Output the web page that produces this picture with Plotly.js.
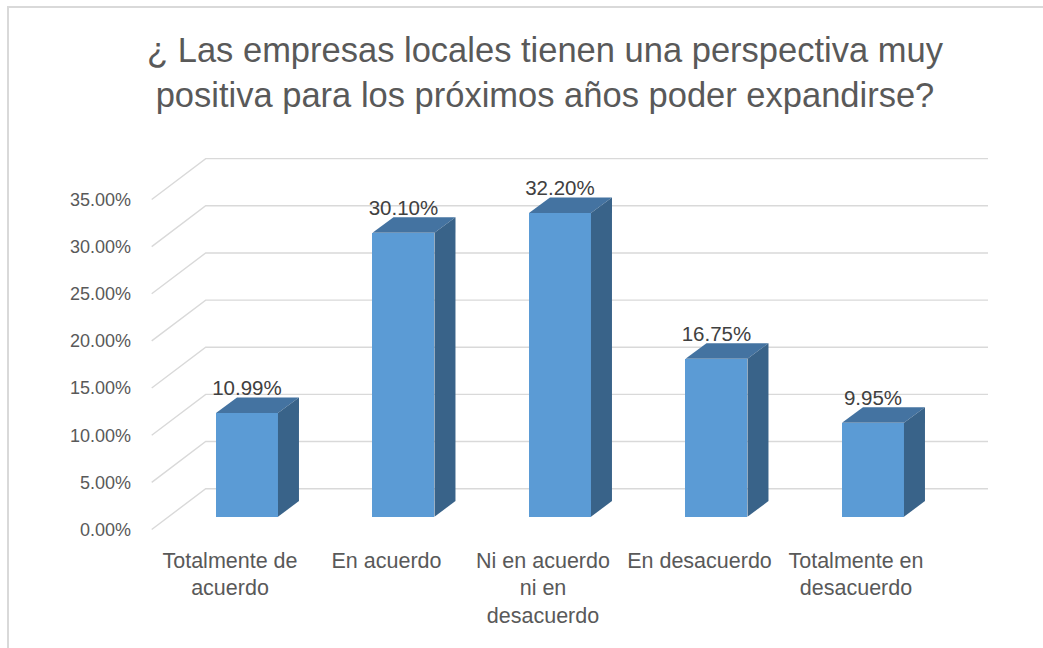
<!DOCTYPE html>
<html>
<head>
<meta charset="utf-8">
<script src="https://cdn.plot.ly/plotly-3.0.1.min.js"></script>
<style>
  html, body { margin: 0; padding: 0; background: #ffffff; }
  #wrap { position: relative; width: 1043px; height: 648px; overflow: hidden; }
  #chart { position: absolute; left: 0; top: 0; width: 1043px; height: 648px; }
  #frame { position: absolute; left: 7px; top: 6px; width: 1100px; height: 700px;
           border-left: 2px solid #D9D9D9; border-top: 2px solid #D9D9D9; pointer-events: none; }
</style>
</head>
<body>
<div id="wrap"><div id="chart"></div><div id="frame"></div></div>
<script>
// ---- data ----
const categories = [
  "Totalmente de<br>acuerdo",
  "En acuerdo",
  "Ni en acuerdo<br>ni en<br>desacuerdo",
  "En desacuerdo",
  "Totalmente en<br>desacuerdo"
];
const values = [0.1099, 0.3010, 0.3220, 0.1675, 0.0995];
const tickValues = [0, 0.05, 0.10, 0.15, 0.20, 0.25, 0.30, 0.35];
const tickLabels = ["0.00%", "5.00%", "10.00%", "15.00%", "20.00%", "25.00%", "30.00%", "35.00%"];
const titleText = "¿ Las empresas locales tienen una perspectiva muy<br>positiva para los próximos años poder expandirse?";

// ---- pseudo-3D geometry (in axis units) ----
const barWidth = 0.396;      // front face width
const barOffset = -0.0895;   // front face left edge relative to category position
const depthX = 0.1342;       // bar depth, horizontal
const depthY = 0.01654;      // bar depth, vertical
const floorFrontY = -0.01357; // front edge of floor relative to value
const wallBackY = 0.0297;     // back wall relative to value
const floorFrontX = -0.5003;
const wallLeftX = -0.1553;
const wallRightX = 4.8435;
const labelDrop = 0.0032;

const xs = categories.map((c, i) => i);

const shapes = [];
// grid lines: floor/side diagonal + back wall
tickValues.forEach(v => {
  shapes.push({
    type: 'path', xref: 'x', yref: 'y', layer: 'below',
    path: `M ${floorFrontX},${v + floorFrontY} L ${wallLeftX},${v + wallBackY} L ${wallRightX},${v + wallBackY}`,
    line: { color: '#D9D9D9', width: 1.4 }
  });
});
// bar top and side faces
values.forEach((v, i) => {
  const x0 = i + barOffset, x1 = x0 + barWidth;
  shapes.push({
    type: 'path', xref: 'x', yref: 'y', layer: 'above',
    path: `M ${x0},${v} L ${x1},${v} L ${x1 + depthX},${v + depthY} L ${x0 + depthX},${v + depthY} Z`,
    fillcolor: '#4473A1', line: { width: 0 }
  });
  shapes.push({
    type: 'path', xref: 'x', yref: 'y', layer: 'above',
    path: `M ${x1},0 L ${x1},${v} L ${x1 + depthX},${v + depthY} L ${x1 + depthX},${depthY} Z`,
    fillcolor: '#396389', line: { width: 0 }
  });
});

const fontFam = '"Liberation Sans", Arial, sans-serif';

const traces = [
  {
    type: 'bar', x: xs, y: values, width: barWidth, offset: barOffset,
    marker: { color: '#5B9BD5', line: { width: 0 } },
    hoverinfo: 'skip', showlegend: false
  },
  {
    type: 'scatter', mode: 'text',
    x: xs.map(x => x + barOffset + barWidth / 2),
    y: values.map(v => v + depthY - labelDrop),
    text: values.map(v => (v * 100).toFixed(2) + '%'),
    textposition: 'top center',
    textfont: { family: fontFam, size: 20.5, color: '#404040' },
    hoverinfo: 'skip', showlegend: false, cliponaxis: false
  }
];

const layout = {
  width: 1043, height: 648,
  paper_bgcolor: '#ffffff', plot_bgcolor: 'rgba(0,0,0,0)',
  margin: { l: 140, r: 43, t: 150, b: 108, pad: 0 },
  title: {
    text: titleText,
    font: { family: fontFam, size: 34.5, color: '#595959' },
    x: 545 / 1043, xanchor: 'center', xref: 'container',
    y: 1 - 62 / 648, yanchor: 'top', yref: 'container'
  },
  xaxis: {
    range: [-0.57508, 4.92013],
    tickvals: xs, ticktext: categories,
    showgrid: false, zeroline: false, showline: false, ticks: '',
    ticklabelstandoff: 5,
    tickfont: { family: fontFam, size: 21.5, color: '#595959' },
    fixedrange: true
  },
  yaxis: {
    range: [-0.024708, 0.38887],
    tickvals: tickValues.map(v => v + floorFrontY), ticktext: tickLabels,
    showgrid: false, zeroline: false, showline: false, ticks: '',
    ticklabelstandoff: 8,
    tickfont: { family: fontFam, size: 18, color: '#595959' },
    fixedrange: true
  },
  shapes: shapes,
  showlegend: false,
  bargap: 0
};

Plotly.newPlot('chart', traces, layout, { staticPlot: true, displayModeBar: false });
</script>
</body>
</html>
